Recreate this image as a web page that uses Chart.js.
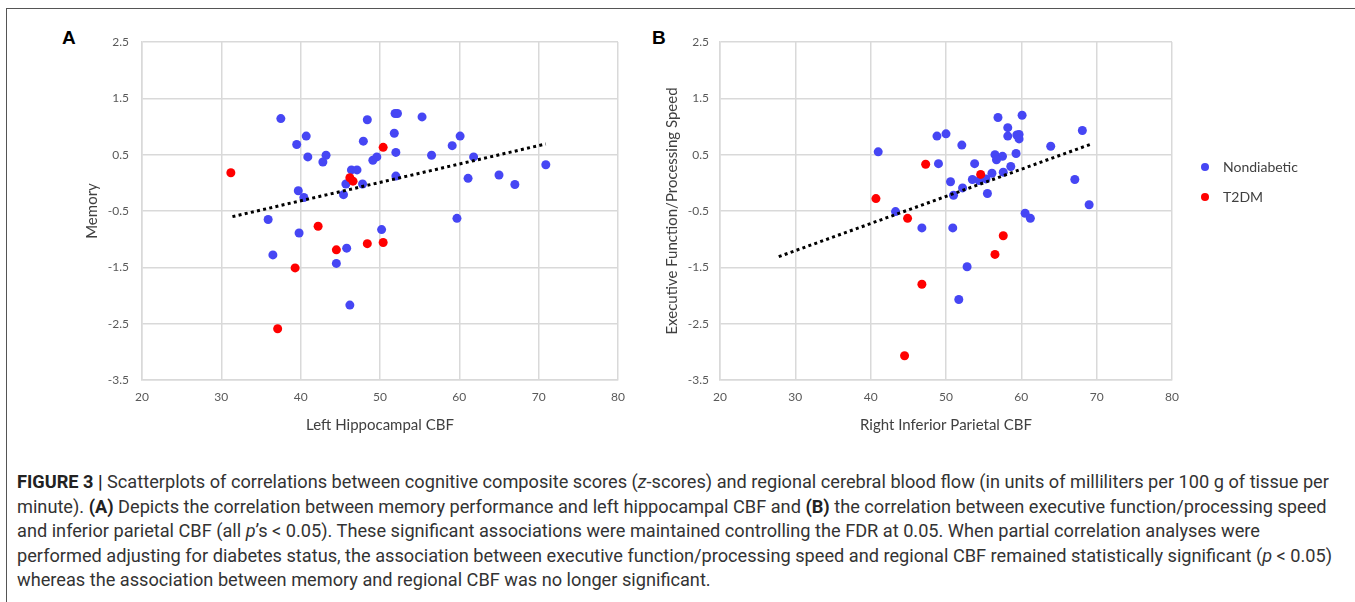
<!DOCTYPE html>
<html>
<head>
<meta charset="utf-8">
<script src="https://cdn.jsdelivr.net/npm/chart.js@4.4.0/dist/chart.umd.min.js"></script>
<style>
  body { margin: 0; background: #fff; width: 1355px; height: 602px; overflow: hidden; position: relative; font-family: Lato, sans-serif; }
  #frame { position: absolute; left: 6px; top: 8px; width: 1400px; height: 700px; border-left: 1px solid #555; border-top: 1px solid #555; }
  .panel { position: absolute; top: 20px; }
  .tag { position: absolute; font: bold 19px "Liberation Sans", Arial, sans-serif; color: #000; }
  #legend { position: absolute; left: 1198px; top: 157px; }
  .item { position: absolute; left: 0; height: 20px; white-space: nowrap; font: 14px Lato, sans-serif; color: #404040; }
  .dot { position: absolute; left: 3px; top: 6px; width: 8px; height: 8px; border-radius: 50%; }
  .item span { position: absolute; left: 25px; top: 1px; }
  #caption { position: absolute; left: 17px; top: 470px; font-family: Roboto, "Liberation Sans", sans-serif; font-size: 16px; color: #333; line-height: 24.5px; }
  .ln { white-space: nowrap; }
  b { color: #222; }
</style>
</head>
<body>
<div id="frame"></div>
<div class="tag" style="left:62px;top:27px">A</div>
<div class="tag" style="left:652px;top:27px">B</div>
<canvas id="chartA" class="panel" style="left:60px" width="600" height="420"></canvas>
<canvas id="chartB" class="panel" style="left:640px" width="560" height="420"></canvas>
<div id="legend"></div>
<div id="caption">
  <div class="ln"><span id="line1"><b>FIGURE 3 |</b> Scatterplots of correlations between cognitive composite scores (<i>z</i>-scores) and regional cerebral blood flow (in units of milliliters per 100 g of tissue per</span></div>
  <div class="ln">minute). <b>(A)</b> Depicts the correlation between memory performance and left hippocampal CBF and <b>(B)</b> the correlation between executive function/processing speed</div>
  <div class="ln">and inferior parietal CBF (all <i>p</i>’s &lt; 0.05). These significant associations were maintained controlling the FDR at 0.05. When partial correlation analyses were</div>
  <div class="ln">performed adjusting for diabetes status, the association between executive function/processing speed and regional CBF remained statistically significant (<i>p</i> &lt; 0.05)</div>
  <div class="ln">whereas the association between memory and regional CBF was no longer significant.</div>
</div>
<script>
// axis ticks
const xTicks = [20, 30, 40, 50, 60, 70, 80];
const yTicks = [-3.5, -2.5, -1.5, -0.5, 0.5, 1.5, 2.5];

const seriesNames = ['Nondiabetic', 'T2DM'];
const seriesColors = ['#4646f4', '#ff0000'];

// Panel A: Left Hippocampal CBF vs Memory
const memNondiabeticX = [37.5, 48.4, 40.7, 39.5, 47.9, 40.9, 43.2, 42.8, 49.1, 49.6, 46.4, 47.1, 47.8, 45.7, 45.4,
                         39.7, 40.4, 35.9, 39.8, 45.8, 51.9, 52.2, 55.3, 51.8, 60.1, 59.1, 52.0, 56.5, 61.8, 52.0,
                         61.1, 65.0, 67.0, 70.9, 59.7, 50.2, 36.5, 44.5, 46.2];
const memNondiabeticY = [1.14, 1.12, 0.83, 0.68, 0.74, 0.46, 0.49, 0.37, 0.40, 0.46, 0.23, 0.23, -0.02, -0.02, -0.21,
                         -0.14, -0.26, -0.65, -0.89, -1.16, 1.23, 1.23, 1.17, 0.88, 0.83, 0.66, 0.54, 0.49, 0.46, 0.12,
                         0.08, 0.14, -0.03, 0.32, -0.63, -0.83, -1.28, -1.43, -2.17];
const memT2dmX = [31.2, 46.2, 46.6, 50.4, 42.2, 44.5, 48.4, 50.4, 39.3, 37.1];
const memT2dmY = [0.18, 0.09, 0.03, 0.63, -0.77, -1.19, -1.08, -1.06, -1.51, -2.59];
const memTrendX = [31.4, 70.9];
const memTrendY = [-0.60, 0.69];

// Panel B: Right Inferior Parietal CBF vs Executive Function/Processing Speed
const exeNondiabeticX = [41.0, 56.9, 60.1, 58.2, 58.2, 59.4, 59.7, 59.7, 48.8, 50.0, 52.1, 68.1, 63.9, 56.5, 57.5,
                         56.7, 59.3, 49.0, 53.8, 58.6, 57.6, 56.1, 55.3, 54.4, 53.5, 50.6, 52.2, 51.0, 55.5, 67.1,
                         69.0, 60.5, 61.2, 43.3, 46.8, 50.9, 52.8, 51.7];
const exeNondiabeticY = [0.55, 1.16, 1.20, 0.98, 0.83, 0.85, 0.86, 0.78, 0.83, 0.87, 0.67, 0.93, 0.65, 0.50, 0.47,
                         0.41, 0.52, 0.34, 0.34, 0.29, 0.19, 0.17, 0.07, 0.04, 0.06, 0.02, -0.09, -0.22, -0.19, 0.06,
                         -0.39, -0.54, -0.63, -0.51, -0.80, -0.80, -1.49, -2.07];
const exeT2dmX = [47.3, 54.6, 40.7, 44.9, 57.6, 56.5, 46.8, 44.5];
const exeT2dmY = [0.33, 0.15, -0.28, -0.63, -0.94, -1.27, -1.80, -3.07];
const exeTrendX = [27.8, 69.1];
const exeTrendY = [-1.31, 0.68];

function pts(xs, ys) {
    return xs.map((x, i) => ({ x: x, y: ys[i] }));
}

const gridColor = '#d9d9d9';
const tickFont = { family: 'Lato', size: 12 };
const titleFont = { family: 'Lato', size: 15 };

function makeChart(id, blueX, blueY, redX, redY, trendX, trendY, xTitle, yTitle, yAxisWidth, yTickPad, rightPad) {
    const ctx = document.getElementById(id).getContext('2d');
    return new Chart(ctx, {
        type: 'scatter',
        data: {
            datasets: [
                {
                    type: 'line',
                    label: 'trend',
                    data: pts(trendX, trendY),
                    borderColor: '#000',
                    borderWidth: 3,
                    borderDash: [3, 3.3],
                    pointRadius: 0,
                    fill: false,
                    order: 0
                },
                {
                    label: seriesNames[1],
                    data: pts(redX, redY),
                    backgroundColor: seriesColors[1],
                    borderWidth: 0,
                    pointRadius: 4.5,
                    order: 1
                },
                {
                    label: seriesNames[0],
                    data: pts(blueX, blueY),
                    backgroundColor: seriesColors[0],
                    borderWidth: 0,
                    pointRadius: 4.5,
                    order: 2
                }
            ]
        },
        options: {
            responsive: false,
            animation: false,
            layout: { padding: { top: 22, right: rightPad, left: 0, bottom: 0 } },
            plugins: {
                legend: { display: false },
                tooltip: { enabled: false }
            },
            scales: {
                x: {
                    type: 'linear',
                    min: 20,
                    max: 80,
                    afterBuildTicks: function(s) { s.ticks = xTicks.map(v => ({ value: v })); },
                    afterFit: function(s) { s.height = 60; },
                    grid: { color: gridColor, lineWidth: 1.5, drawTicks: false },
                    border: { color: gridColor, width: 1.5 },
                    ticks: { font: tickFont, color: '#595959', padding: 10 },
                    title: { display: true, text: xTitle, font: titleFont, color: '#404040', padding: { top: 0, bottom: 6 } }
                },
                y: {
                    type: 'linear',
                    min: -3.5,
                    max: 2.5,
                    afterBuildTicks: function(s) { s.ticks = yTicks.map(v => ({ value: v })); },
                    afterFit: function(s) { s.width = yAxisWidth; },
                    grid: { color: gridColor, lineWidth: 1.5, drawTicks: false },
                    border: { color: gridColor, width: 1.5 },
                    ticks: { font: tickFont, color: '#595959', padding: yTickPad, callback: v => v.toFixed(1) },
                    title: { display: true, text: yTitle, font: titleFont, color: '#404040', padding: { top: 23, bottom: 0 } }
                }
            }
        }
    });
}

makeChart('chartA', memNondiabeticX, memNondiabeticY, memT2dmX, memT2dmY, memTrendX, memTrendY,
          'Left Hippocampal CBF', 'Memory', 82, 13, 42);
makeChart('chartB', exeNondiabeticX, exeNondiabeticY, exeT2dmX, exeT2dmY, exeTrendX, exeTrendY,
          'Right Inferior Parietal CBF', 'Executive Function/Processing Speed', 80, 11, 28);

// legend for panel B
const legend = document.getElementById('legend');
seriesNames.forEach((name, i) => {
    const item = document.createElement('div');
    item.className = 'item';
    item.style.top = (i * 30) + 'px';
    item.innerHTML = '<div class="dot" style="background:' + seriesColors[i] + '"></div><span>' + name + '</span>';
    legend.appendChild(item);
});

// fit caption width to the reference line length
const line1 = document.getElementById('line1');
const w = line1.getBoundingClientRect().width;
document.getElementById('caption').style.fontSize = (16 * 1313 / w) + 'px';
</script>
</body>
</html>
